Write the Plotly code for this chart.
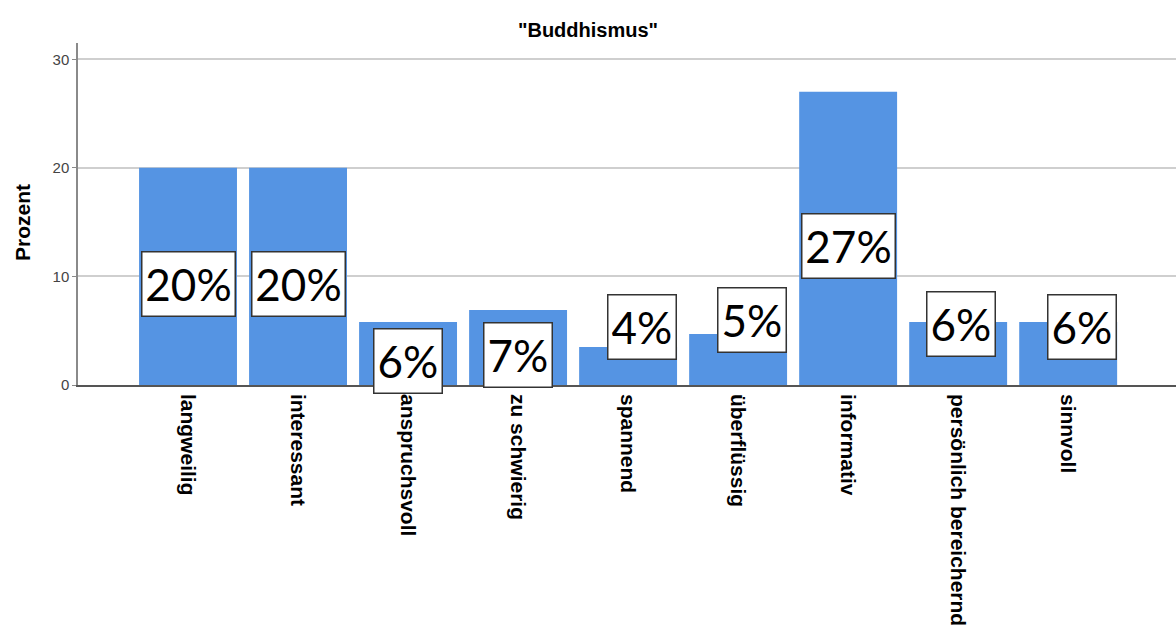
import plotly.graph_objects as go

# ---- data ----
categories = ["langweilig", "interessant", "anspruchsvoll", "zu schwierig", "spannend",
              "überflüssig", "informativ", "persönlich bereichernd", "sinnvoll"]
percent = [20.0, 20.0, 5.8, 6.9, 3.5, 4.7, 27.0, 5.8, 5.8]
y_ticks = [0, 10, 20, 30]

# ---- label placement (pixel offsets from bar middle) ----
label_xshift = [0, 0, 0, 0, 14, 14, 0, 3, 14]
label_yshift = [-8, -8, -7, -7, 39, 39, -8, 30, 27]

W, H = 1176, 642
bar_color = "#5594E3"

fig = go.Figure()
fig.add_trace(go.Bar(
    x=categories, y=percent, width=0.89,
    marker=dict(color=bar_color, line=dict(width=0)),
    hoverinfo="x+y", showlegend=False,
))

annotations = []
for c, v, dx, dy in zip(categories, percent, label_xshift, label_yshift):
    txt = f"{int(v + 0.5)}%"
    annotations.append(dict(
        x=c, y=v / 2, xref="x", yref="y",
        text=txt, showarrow=False,
        xshift=dx, yshift=dy,
        width=86 if len(txt) == 3 else 61, height=57,
        font=dict(family="Lato, Open Sans, sans-serif", size=44, color="black"),
        bgcolor="white", bordercolor="#333333", borderwidth=1.5, borderpad=3,
    ))

L, R, T, B = 78, 0, 43, 257
pw, ph = W - L - R, H - T - B
annotations.append(dict(
    text="<b>Prozent</b>", x=(22 - L) / pw, y=(H - B - 222) / ph,
    xref="paper", yref="paper", showarrow=False,
    xanchor="center", yanchor="middle", textangle=-90,
    font=dict(family="Liberation Sans, Arial", size=21, color="black"),
))

fig.update_layout(
    width=W, height=H,
    margin=dict(l=L, r=R, t=T, b=B),
    paper_bgcolor="white", plot_bgcolor="white",
    title=dict(text='<b>"Buddhismus"</b>', x=0.5, xanchor="center",
               y=1 - 30 / H, yanchor="middle", yref="container",
               font=dict(family="Liberation Sans, Arial", size=20, color="black")),
    annotations=annotations,
    xaxis=dict(
        type="category", range=[-1, 8.98],
        tickangle=90, ticks="", showgrid=False,
        showline=True, linecolor="#555555", linewidth=1.5,
        tickfont=dict(family="Liberation Sans, Arial", size=21, color="black", weight="bold"),
        ticklabelstandoff=3,
        fixedrange=True,
    ),
    yaxis=dict(
        range=[0, 31.5], tickvals=y_ticks, ticktext=[str(t) for t in y_ticks],
        showgrid=True, gridcolor="#cfcfcf", gridwidth=1.5,
        showline=True, linecolor="#8a8a8a", linewidth=1.5,
        ticks="outside", ticklen=4, tickcolor="#8a8a8a",
        tickfont=dict(family="Liberation Sans, Arial", size=15, color="#444444"),
        zeroline=False, fixedrange=True,
    ),
)

fig.write_html(
    "out.html",
    config={"displayModeBar": False},
    post_script="document.body.style.margin='0';document.body.style.overflow='hidden';",
)
